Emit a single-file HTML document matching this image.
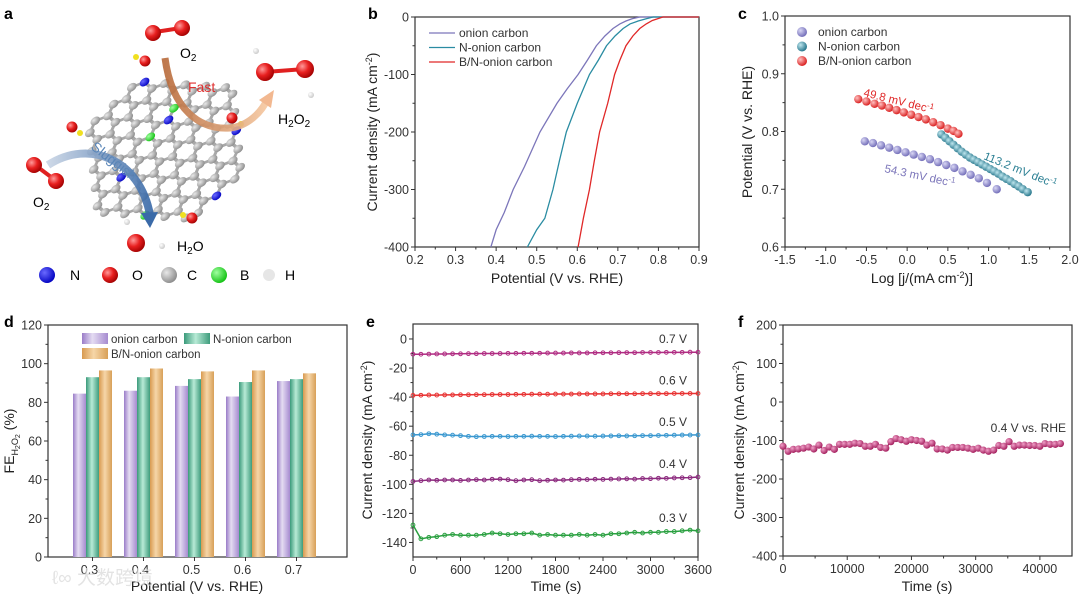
<!DOCTYPE html>
<html><head><meta charset="utf-8">
<style>
html,body{margin:0;padding:0;background:#fff;}
svg{display:block;font-family:"Liberation Sans","Noto Sans CJK SC",sans-serif;}
</style></head>
<body>
<svg id="fig" width="1080" height="599" viewBox="0 0 1080 599">
<defs>
<radialGradient id="gO" cx="0.35" cy="0.35" r="0.7"><stop offset="0" stop-color="#ff9a9a"/><stop offset="0.5" stop-color="#e82020"/><stop offset="1" stop-color="#a00000"/></radialGradient>
<radialGradient id="gC" cx="0.35" cy="0.35" r="0.7"><stop offset="0" stop-color="#e8e8e8"/><stop offset="1" stop-color="#8a8a8a"/></radialGradient>
<radialGradient id="gN" cx="0.35" cy="0.35" r="0.7"><stop offset="0" stop-color="#6a6aff"/><stop offset="1" stop-color="#0000c0"/></radialGradient>
<radialGradient id="gB" cx="0.35" cy="0.35" r="0.7"><stop offset="0" stop-color="#a0ffa0"/><stop offset="1" stop-color="#10c010"/></radialGradient>
<radialGradient id="gH" cx="0.35" cy="0.35" r="0.7"><stop offset="0" stop-color="#ffffff"/><stop offset="1" stop-color="#c8c8c8"/></radialGradient>
<radialGradient id="mP" cx="0.35" cy="0.35" r="0.7"><stop offset="0" stop-color="#d8d6f4"/><stop offset="1" stop-color="#6e69b6"/></radialGradient>
<radialGradient id="mT" cx="0.35" cy="0.35" r="0.7"><stop offset="0" stop-color="#bfe6ee"/><stop offset="1" stop-color="#1f7187"/></radialGradient>
<radialGradient id="mR" cx="0.35" cy="0.35" r="0.7"><stop offset="0" stop-color="#ffc0c0"/><stop offset="1" stop-color="#d81818"/></radialGradient>
<radialGradient id="mF" cx="0.35" cy="0.35" r="0.7"><stop offset="0" stop-color="#f0a0c8"/><stop offset="1" stop-color="#a01858"/></radialGradient>
<linearGradient id="bP" x1="0" x2="1"><stop offset="0" stop-color="#9a7cc8"/><stop offset="0.4" stop-color="#e4dcf2"/><stop offset="1" stop-color="#a68bd0"/></linearGradient>
<linearGradient id="bG" x1="0" x2="1"><stop offset="0" stop-color="#3a9a7a"/><stop offset="0.45" stop-color="#b8ead6"/><stop offset="1" stop-color="#3e9c7c"/></linearGradient>
<linearGradient id="bO" x1="0" x2="1"><stop offset="0" stop-color="#d89a50"/><stop offset="0.45" stop-color="#f6d6a8"/><stop offset="1" stop-color="#d8a058"/></linearGradient>
<linearGradient id="arO" x1="0" x2="1"><stop offset="0" stop-color="#b86a3a"/><stop offset="1" stop-color="#f6c8a0"/></linearGradient>
<linearGradient id="arB" x1="0" x2="1"><stop offset="0" stop-color="#c8d4e4"/><stop offset="1" stop-color="#3a6aa8"/></linearGradient>
</defs>

<g id="panelA">
  <text x="4" y="19" font-size="16" font-weight="bold">a</text>
  <g id="lattice"></g>
  <path d="M165,58 C172,110 200,130 230,128 C248,126 262,112 268,98" stroke="url(#arO)" stroke-width="7" fill="none" opacity="0.9"/>
  <polygon points="259,100 274,90 271,108" fill="#f2b890"/>
  <text x="188" y="92" font-size="14" fill="#e03030">Fast</text>
  <path d="M48,165 C90,138 140,160 150,215" stroke="url(#arB)" stroke-width="8" fill="none" opacity="0.9"/>
  <polygon points="141,213 158,212 150,228" fill="#3a6aa8"/>
  <text x="82" y="158" font-size="14" fill="#5a86b8" transform="rotate(38 100 165)">Sluggish</text>
  <g>
    <line x1="155" y1="32" x2="181" y2="28" stroke="#e02020" stroke-width="4"/>
    <circle cx="153" cy="33" r="8" fill="url(#gO)"/><circle cx="182" cy="28" r="8" fill="url(#gO)"/>
  </g>
  <text x="180" y="58" font-size="14">O<tspan font-size="10" dy="3">2</tspan></text>
  <g>
    <line x1="265" y1="72" x2="305" y2="69" stroke="#e02020" stroke-width="4"/>
    <circle cx="256" cy="51" r="3" fill="url(#gH)"/><circle cx="311" cy="95" r="3" fill="url(#gH)"/>
    <circle cx="265" cy="72" r="9" fill="url(#gO)"/><circle cx="305" cy="69" r="9" fill="url(#gO)"/>
  </g>
  <text x="278" y="124" font-size="14">H<tspan font-size="10" dy="3">2</tspan><tspan dy="-3">O</tspan><tspan font-size="10" dy="3">2</tspan></text>
  <g>
    <line x1="35" y1="165" x2="55" y2="180" stroke="#e02020" stroke-width="4"/>
    <circle cx="34" cy="165" r="8" fill="url(#gO)"/><circle cx="56" cy="181" r="8" fill="url(#gO)"/>
  </g>
  <text x="33" y="207" font-size="14">O<tspan font-size="10" dy="3">2</tspan></text>
  <g>
    <circle cx="127" cy="222" r="3" fill="url(#gH)"/><circle cx="162" cy="246" r="3" fill="url(#gH)"/>
    <circle cx="136" cy="243" r="9" fill="url(#gO)"/>
  </g>
  <text x="177" y="251" font-size="14">H<tspan font-size="10" dy="3">2</tspan><tspan dy="-3">O</tspan></text>
  <g>
    <circle cx="47" cy="275" r="8" fill="url(#gN)"/><text x="70" y="280" font-size="14">N</text>
    <circle cx="110" cy="275" r="8" fill="url(#gO)"/><text x="132" y="280" font-size="14">O</text>
    <circle cx="169" cy="275" r="8" fill="url(#gC)"/><text x="187" y="280" font-size="14">C</text>
    <circle cx="219" cy="275" r="8" fill="url(#gB)"/><text x="240" y="280" font-size="14">B</text>
    <circle cx="269" cy="275" r="6" fill="#e6e6e6"/><text x="285" y="280" font-size="14">H</text>
  </g>
</g>

<text x="368" y="19" font-size="16" font-weight="bold">b</text>
<text x="738" y="19" font-size="16" font-weight="bold">c</text>
<text x="4" y="327" font-size="16" font-weight="bold">d</text>
<text x="366" y="327" font-size="16" font-weight="bold">e</text>
<text x="738" y="327" font-size="16" font-weight="bold">f</text>
<g id="charts"></g>
<text x="52" y="584" font-size="19" fill="#ddd" opacity="0.8">ℓ∞ 大数跨境</text>
</svg>

<script>
// Panel b: LSV curves
const bOnionV = [0.387,0.40,0.42,0.442,0.47,0.508,0.55,0.575,0.602,0.625,0.647,0.668,0.688,0.705,0.72,0.735,0.754,0.8,0.9];
const bOnionJ = [-400,-370,-340,-300,-260,-200,-150,-125,-100,-75,-50,-33,-20,-12,-7,-3,0,0,0];
const bNV = [0.477,0.50,0.52,0.54,0.556,0.573,0.60,0.615,0.63,0.652,0.672,0.693,0.713,0.73,0.75,0.77,0.787,0.9];
const bNJ = [-400,-370,-350,-300,-250,-200,-150,-125,-100,-75,-50,-33,-20,-12,-7,-3,0,0];
const bBNV = [0.602,0.615,0.63,0.642,0.655,0.675,0.692,0.705,0.72,0.737,0.754,0.77,0.785,0.811,0.9];
const bBNJ = [-400,-350,-300,-250,-200,-150,-100,-75,-50,-33,-20,-12,-6,0,0];
const bXTicks = [0.2,0.3,0.4,0.5,0.6,0.7,0.8,0.9];
const bYTicks = [0,-100,-200,-300,-400];
// Panel c: Tafel
const cOnionX = [-0.52,-0.42,-0.32,-0.22,-0.12,-0.02,0.08,0.18,0.28,0.38,0.48,0.58,0.68,0.78,0.88,0.98,1.1];
const cOnionY = [0.783,0.780,0.776,0.772,0.768,0.764,0.760,0.756,0.752,0.747,0.742,0.737,0.731,0.725,0.719,0.711,0.700];
const cNX = [0.42,0.47,0.52,0.57,0.62,0.67,0.72,0.77,0.82,0.87,0.92,0.97,1.02,1.07,1.12,1.17,1.22,1.27,1.32,1.37,1.42,1.48];
const cNY = [0.795,0.789,0.783,0.777,0.771,0.765,0.760,0.755,0.751,0.747,0.743,0.739,0.735,0.731,0.727,0.722,0.718,0.714,0.709,0.705,0.700,0.695];
const cBNX = [-0.6,-0.5,-0.4,-0.31,-0.22,-0.13,-0.04,0.05,0.14,0.23,0.32,0.41,0.5,0.57,0.63];
const cBNY = [0.856,0.852,0.848,0.845,0.841,0.837,0.833,0.829,0.825,0.821,0.816,0.811,0.805,0.801,0.796];
const cXTicks = [-1.5,-1.0,-0.5,0.0,0.5,1.0,1.5,2.0];
const cYTicks = [0.6,0.7,0.8,0.9,1.0];
// Panel d: FE bars
const dCategories = ['0.3','0.4','0.5','0.6','0.7'];
const dOnion = [84.5,86,88.5,83,91];
const dN = [93,93,92,90.5,92];
const dBN = [96.5,97.5,96,96.5,95];
const dYTicks = [0,20,40,60,80,100,120];
// Panel e
const eTime = [0,100,200,300,400,500,600,700,800,900,1000,1100,1200,1300,1400,1500,1600,1700,1800,1900,2000,2100,2200,2300,2400,2500,2600,2700,2800,2900,3000,3100,3200,3300,3400,3500,3600];
const e07 = [-10.5,-10.5,-10.4,-10.3,-10.3,-10.2,-10.2,-10.1,-10.1,-10,-10,-10,-9.9,-9.9,-9.8,-9.8,-9.8,-9.7,-9.7,-9.7,-9.6,-9.6,-9.6,-9.5,-9.5,-9.5,-9.4,-9.4,-9.4,-9.3,-9.3,-9.3,-9.2,-9.2,-9.2,-9.1,-9.1];
const e06 = [-38.8,-38.7,-38.6,-38.6,-38.5,-38.5,-38.4,-38.4,-38.3,-38.3,-38.2,-38.2,-38.2,-38.1,-38.1,-38.0,-38.0,-38.0,-37.9,-37.9,-37.9,-37.8,-37.8,-37.8,-37.8,-37.7,-37.7,-37.7,-37.7,-37.6,-37.6,-37.6,-37.6,-37.5,-37.5,-37.5,-37.5];
const e05 = [-66,-65.8,-65.2,-65.5,-66,-66.2,-66.5,-67,-67.2,-67.1,-67,-67,-67.1,-67,-67,-66.9,-67,-67,-67.1,-67,-66.9,-66.8,-66.8,-66.9,-66.8,-66.7,-66.6,-66.7,-66.6,-66.5,-66.5,-66.4,-66.3,-66.2,-66.1,-66.1,-66];
const e04 = [-98,-97.5,-97,-97.2,-97,-97,-97.3,-97,-96.8,-97,-96.5,-96.4,-96.8,-97.5,-97,-96.8,-97.5,-97.2,-97,-97.1,-96.8,-96.6,-96.7,-96.5,-96.6,-96.4,-96.3,-96.2,-96.4,-96,-96.1,-95.8,-95.9,-95.6,-95.5,-95.4,-95];
const e03 = [-128,-137.5,-136.5,-136,-135,-134.5,-135,-135,-135,-134.5,-133.5,-134,-134.5,-134,-134,-133.5,-135,-134.5,-135,-135,-135,-134.5,-135,-134.5,-135,-134,-134,-133.5,-133,-133.5,-133,-133,-132.5,-132.5,-132,-131.5,-132];
const eLabels = ['0.7 V','0.6 V','0.5 V','0.4 V','0.3 V'];
const eXTicks = [0,600,1200,1800,2400,3000,3600];
const eYTicks = [0,-20,-40,-60,-80,-100,-120,-140];
// Panel f
const fValues = [-115,-128,-123,-122,-120,-117,-122,-112,-126,-117,-123,-110,-110,-110,-107,-108,-115,-115,-110,-118,-120,-103,-95,-98,-102,-98,-100,-102,-112,-107,-122,-122,-125,-118,-118,-118,-120,-123,-120,-125,-128,-125,-113,-115,-103,-115,-112,-112,-113,-113,-115,-108,-110,-110,-108];
const fXTicks = [0,10000,20000,30000,40000];
const fYTicks = [200,100,0,-100,-200,-300,-400];

const NS='http://www.w3.org/2000/svg';
const root=document.getElementById('charts');
function mk(parent,tag,attrs,text){const e=document.createElementNS(NS,tag);for(const k in attrs)e.setAttribute(k,attrs[k]);if(text!=null)e.textContent=text;parent.appendChild(e);return e;}
function lin(d0,d1,r0,r1){return v=>r0+(v-d0)/(d1-d0)*(r1-r0);}

function axes(g,L,R,T,B,xs,ys,xt,yt,xfmt,yfmt,xminor,yminor){
  const fr=mk(g,'rect',{x:L,y:T,width:R-L,height:B-T,fill:'none',stroke:'#333','stroke-width':1.2});
  
  
  xt.forEach((v,i)=>{const x=xs(v);
    const t=mk(g,'line',{x1:x,y1:B,x2:x,y2:B+4,stroke:'#333'});
    
    
    const l=mk(g,'text',{x:x,y:B+17,'font-size':12.5,'text-anchor':'middle',fill:'#333'},xfmt(v));
    
    
    if(xminor&&i<xt.length-1){const xm=xs((v+xt[i+1])/2);
      const m=mk(g,'line',{x1:xm,y1:B,x2:xm,y2:B+2.5,stroke:'#333'});
      
      }
  });
  yt.forEach((v,i)=>{const y=ys(v);
    const t=mk(g,'line',{x1:L-4,y1:y,x2:L,y2:y,stroke:'#333'});
    
    
    const l=mk(g,'text',{x:L-6,y:y+4.5,'font-size':12.5,'text-anchor':'end',fill:'#333'},yfmt(v));
    
    
    if(yminor&&i<yt.length-1){const ym=ys((v+yt[i+1])/2);
      const m=mk(g,'line',{x1:L-2.5,y1:ym,x2:L,y2:ym,stroke:'#333'});
      
      }
  });
}
function title(g,x,y,txt,rot,name){
  const t=mk(g,'text',{x:x,y:y,'font-size':14,'text-anchor':'middle',fill:'#222',transform:rot?`rotate(-90 ${x} ${y})`:''});
  t.innerHTML=txt;
  
  
  return t;
}

(function(){
  const g=mk(root,'g',{});
  
  
  const L=415,R=699,T=17,B=247;
  const xs=lin(0.2,0.9,L,R), ys=lin(0,-400,T,B);
  axes(g,L,R,T,B,xs,ys,bXTicks,bYTicks,v=>v.toFixed(1),v=>String(v),true,true);
  const series=[[bOnionV,bOnionJ,'#7c76ba','onion-carbon-curve'],[bNV,bNJ,'#2a8ca2','n-onion-carbon-curve'],[bBNV,bBNJ,'#e02828','bn-onion-carbon-curve']];
  series.forEach(s=>{
    const p=mk(g,'polyline',{points:s[0].map((v,i)=>xs(v)+','+ys(s[1][i])).join(' '),fill:'none',stroke:s[2],'stroke-width':1.3});
    
    
  });
  const leg=[['onion carbon','#7c76ba'],['N-onion carbon','#2a8ca2'],['B/N-onion carbon','#e02828']];
  leg.forEach((l,i)=>{const y=33+i*14.5;
    const ln=mk(g,'line',{x1:429,y1:y,x2:455,y2:y,stroke:l[1],'stroke-width':1.3});
    
    
    const t=mk(g,'text',{x:459,y:y+4,'font-size':12,fill:'#333'},l[0]);
    
    });
  title(g,557,283,'Potential (V vs. RHE)',false,'x-axis-title');
  title(g,377,132,'Current density (mA cm<tspan dy="-5" font-size="9">-2</tspan><tspan dy="5">)</tspan>',true,'y-axis-title');
})();

(function(){
  const g=mk(root,'g',{});
  
  
  const L=785,R=1070,T=16,B=247;
  const xs=lin(-1.5,2.0,L,R), ys=lin(0.6,1.0,B,T);
  axes(g,L,R,T,B,xs,ys,cXTicks,cYTicks,v=>v.toFixed(1),v=>v.toFixed(1),true,true);
  const series=[[cOnionX,cOnionY,'url(#mP)','onion-carbon-point'],[cBNX,cBNY,'url(#mR)','bn-onion-carbon-point'],[cNX,cNY,'url(#mT)','n-onion-carbon-point']];
  series.forEach(s=>{s[0].forEach((v,i)=>{
    const c=mk(g,'circle',{cx:xs(v),cy:ys(s[1][i]),r:4.2,fill:s[2]});
    
    });});
  const leg=[['onion carbon','url(#mP)'],['N-onion carbon','url(#mT)'],['B/N-onion carbon','url(#mR)']];
  leg.forEach((l,i)=>{const y=32+i*14.5;
    const c=mk(g,'circle',{cx:802,cy:y,r:5,fill:l[1]});
    
    
    const t=mk(g,'text',{x:818,y:y+4,'font-size':12,fill:'#333'},l[0]);
    
    });
  const ann=[[863,96,14,'#e02828','49.8 mV dec','slope-label-bn'],[983,159,22,'#2a7f93','113.2 mV dec','slope-label-n'],[884,172,12,'#7c76ba','54.3 mV dec','slope-label-onion']];
  ann.forEach(a=>{
    const t=mk(g,'text',{x:a[0],y:a[1],'font-size':11.5,fill:a[3],transform:`rotate(${a[2]} ${a[0]} ${a[1]})`});
    t.innerHTML=a[4]+'<tspan dy="-4" font-size="8">-1</tspan>';
    
    });
  title(g,922,283,'Log [j/(mA cm<tspan dy="-5" font-size="9">-2</tspan><tspan dy="5">)]</tspan>',false,'x-axis-title');
  title(g,752,132,'Potential (V vs. RHE)',true,'y-axis-title');
})();

(function(){
  const g=mk(root,'g',{});
  
  
  const L=48,R=347,T=325,B=557;
  const ys=lin(0,120,B,T);
  const xc=i=>92.5+i*51;
  axes(g,L,R,T,B,xc,ys,[],dYTicks,v=>v,v=>String(v),false,true);
  dCategories.forEach((c,i)=>{const x=xc(i);
    const t=mk(g,'line',{x1:x,y1:B,x2:x,y2:B+4,stroke:'#333'});
    
    
    const l=mk(g,'text',{x:x-3,y:B+17,'font-size':12.5,'text-anchor':'middle',fill:'#333'},c);
    
    });
  const series=[[dOnion,'url(#bP)','bar-onion-carbon'],[dN,'url(#bG)','bar-n-onion-carbon'],[dBN,'url(#bO)','bar-bn-onion-carbon']];
  const bw=13;
  series.forEach((s,k)=>{s[0].forEach((v,i)=>{
    const x=xc(i)-1.5*bw+k*bw;
    const r=mk(g,'rect',{x:x,y:ys(v),width:bw,height:B-ys(v),fill:s[1]});
    
    });});
  const leg=[[82,333,'url(#bP)','onion carbon'],[184,333,'url(#bG)','N-onion carbon'],[82,348,'url(#bO)','B/N-onion carbon']];
  leg.forEach(l=>{
    const r=mk(g,'rect',{x:l[0],y:l[1],width:26,height:11,fill:l[2]});
    
    
    const t=mk(g,'text',{x:l[0]+29,y:l[1]+10,'font-size':11.5,fill:'#333'},l[3]);
    
    });
  title(g,197,591,'Potential (V vs. RHE)',false,'x-axis-title');
  title(g,14,441,'FE<tspan dy="4" font-size="9">H</tspan><tspan dy="2" font-size="7">2</tspan><tspan dy="-2" font-size="9">O</tspan><tspan dy="2" font-size="7">2</tspan><tspan dy="-6"> (%)</tspan>',true,'y-axis-title');
})();

(function(){
  const g=mk(root,'g',{});
  
  
  const L=413,R=698,T=324,B=557;
  const xs=lin(0,3600,L,R), ys=lin(10.3,-150,T,B);
  axes(g,L,R,T,B,xs,ys,eXTicks,eYTicks,v=>String(v),v=>String(v),true,true);
  const series=[[e07,'#b02c82','series-0-7v'],[e06,'#e83232','series-0-6v'],[e05,'#3a98d0','series-0-5v'],[e04,'#8c2a7e','series-0-4v'],[e03,'#2aa040','series-0-3v']];
  series.forEach((s,k)=>{
    const p=mk(g,'polyline',{points:eTime.map((t,i)=>xs(t)+','+ys(s[0][i])).join(' '),fill:'none',stroke:s[1],'stroke-width':1.5});
    
    
    eTime.forEach((t,i)=>{
      const c=mk(g,'circle',{cx:xs(t),cy:ys(s[0][i]),r:1.9,fill:'none',stroke:s[1],'stroke-width':1});
      
      });
    const lb=mk(g,'text',{x:687,y:ys(s[0][s[0].length-1])-9,'font-size':12,'text-anchor':'end',fill:'#333'},eLabels[k]);
    
    
  });
  title(g,556,591,'Time (s)',false,'x-axis-title');
  title(g,372,440,'Current density (mA cm<tspan dy="-5" font-size="9">-2</tspan><tspan dy="5">)</tspan>',true,'y-axis-title');
})();

(function(){
  const g=mk(root,'g',{});
  
  
  const L=783,R=1072,T=325,B=556;
  const xs=lin(0,45000,L,R), ys=lin(200,-400,T,B);
  axes(g,L,R,T,B,xs,ys,fXTicks,fYTicks,v=>String(v),v=>String(v),true,true);
  const fTime=fValues.map((v,i)=>i*800);
  const p=mk(g,'polyline',{points:fTime.map((t,i)=>xs(t)+','+ys(fValues[i])).join(' '),fill:'none',stroke:'#a01858','stroke-width':1.3});
  
  
  fTime.forEach((t,i)=>{
    const c=mk(g,'circle',{cx:xs(t),cy:ys(fValues[i]),r:3.6,fill:'url(#mF)'});
    
    });
  const lb=mk(g,'text',{x:1066,y:432,'font-size':12,'text-anchor':'end',fill:'#333'},'0.4 V vs. RHE');
  
  
  title(g,927,591,'Time (s)',false,'x-axis-title');
  title(g,744,440,'Current density (mA cm<tspan dy="-5" font-size="9">-2</tspan><tspan dy="5">)</tspan>',true,'y-axis-title');
})();

(function(){
  const g=document.getElementById('lattice');
  const inner=mk(g,'g',{transform:'translate(165,150) rotate(-22) scale(1.15,0.85) skewX(-12)'});
  
  
  const s=12, h=s*Math.sqrt(3);
  const atoms=new Map(), bonds=[];
  for(let r=-3;r<=3;r++){
    for(let c=-3;c<=3;c++){
      if(Math.abs(r+c)>4) continue;
      const cx=c*1.5*s, cy=(r+c*0.5)*h;
      const pts=[];
      for(let k=0;k<6;k++){const a=Math.PI/3*k;pts.push([Math.round((cx+s*Math.cos(a))*10)/10,Math.round((cy+s*Math.sin(a))*10)/10]);}
      pts.forEach((p,k)=>{atoms.set(p[0]+','+p[1],p);const q=pts[(k+1)%6];bonds.push([p,q]);});
    }
  }
  bonds.forEach(b=>{
    const l=mk(inner,'line',{x1:b[0][0],y1:b[0][1],x2:b[1][0],y2:b[1][1],stroke:'#a8a8a8','stroke-width':3});
    
    });
  let i=0;
  atoms.forEach(p=>{
    let fill='url(#gC)';
    if(i%23===5) fill='url(#gN)'; else if(i%31===12) fill='url(#gB)';
    const c=mk(inner,'circle',{cx:p[0],cy:p[1],r:4.5,fill:fill});
    
    
    i++;});
  const extras=[[145,61,'url(#gO)'],[72,127,'url(#gO)'],[232,118,'url(#gO)'],[192,218,'url(#gO)']];
  extras.forEach(e=>{
    const c=mk(g,'circle',{cx:e[0],cy:e[1],r:5.5,fill:e[2]});
    
    });
  const hs=[[136,57],[80,133],[241,124],[183,215]];
  hs.forEach(h=>{
    const c=mk(g,'circle',{cx:h[0],cy:h[1],r:3,fill:'#f0e020'});
    
    });
})();
</script>
</body></html>
